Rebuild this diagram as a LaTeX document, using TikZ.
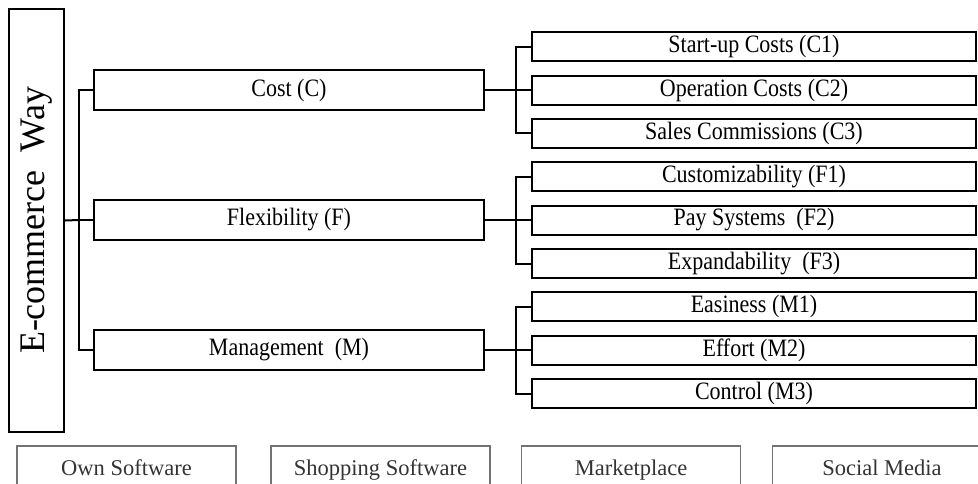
\documentclass[tikz,border=0pt]{standalone}
\usepackage{fontspec}
\setmainfont{Liberation Serif}
\newfontfamily\narrowserif[FakeStretch=0.88]{Liberation Serif}

\begin{document}
\begin{tikzpicture}[x=1pt,y=-1pt,line width=2pt]
  \path[use as bounding box,clip] (0,0) rectangle (978,483);

  \tikzstyle{MainBox}=[draw,rectangle,inner sep=0pt,minimum width=390pt,minimum height=40pt,font=\narrowserif\fontsize{25}{29}\selectfont]
  \tikzstyle{SubBox}=[draw,rectangle,inner sep=0pt,minimum width=444pt,minimum height=29pt,font=\narrowserif\fontsize{25}{29}\selectfont]
  \tikzstyle{WayBox}=[draw=black!55,line width=1.4pt,text=black!80,rectangle,inner sep=0pt,minimum width=219pt,minimum height=48pt,text height=16pt,text depth=5pt,font=\fontsize{22.5}{26}\selectfont]

  \node[draw,rectangle,rotate=90,inner sep=0pt,minimum width=423pt,minimum height=55pt,font=\fontsize{36}{42}\selectfont] (Way) at (36.5,220.5) {E-commerce\ \ Way};

  \node[MainBox] (Cost) at (289,90) {Cost (C)};
  \node[MainBox] (Flex) at (289,220) {Flexibility (F)};
  \node[MainBox] (Mgmt) at (289,350) {Management \ (M)};

  \node[SubBox] (C1) at (754,46.5) {Start-up Costs (C1)};
  \node[SubBox] (C2) at (754,90) {Operation Costs (C2)};
  \node[SubBox] (C3) at (754,133.3) {Sales Commissions (C3)};
  \node[SubBox] (F1) at (754,176.7) {Customizability (F1)};
  \node[SubBox] (F2) at (754,220) {Pay Systems \ (F2)};
  \node[SubBox] (F3) at (754,263.5) {Expandability \ (F3)};
  \node[SubBox] (M1) at (754,306.9) {Easiness (M1)};
  \node[SubBox] (M2) at (754,350) {Effort (M2)};
  \node[SubBox] (M3) at (754,393.7) {Control (M3)};

  \node[WayBox] (Own) at (126.5,470) {Own Software};
  \node[WayBox] (Shop) at (380.5,470) {Shopping Software};
  \node[WayBox] (Market) at (631,470) {Marketplace};
  \node[WayBox] (Social) at (882,470) {Social Media};

  \coordinate (WayJ) at (79,220);
  \coordinate (CostJ) at (516,90);
  \coordinate (FlexJ) at (516,220);
  \coordinate (MgmtJ) at (516,350);

  \draw (Way.south) -- (WayJ);
  \draw (Cost.west) -| (WayJ) |- (Mgmt.west);
  \draw (Flex.west) -- (WayJ);

  \draw (Cost.east) -- (CostJ);
  \draw (C1.west) -| (CostJ) |- (C3.west);
  \draw (C2.west) -- (CostJ);

  \draw (Flex.east) -- (FlexJ);
  \draw (F1.west) -| (FlexJ) |- (F3.west);
  \draw (F2.west) -- (FlexJ);

  \draw (Mgmt.east) -- (MgmtJ);
  \draw (M1.west) -| (MgmtJ) |- (M3.west);
  \draw (M2.west) -- (MgmtJ);
\end{tikzpicture}
\end{document}
